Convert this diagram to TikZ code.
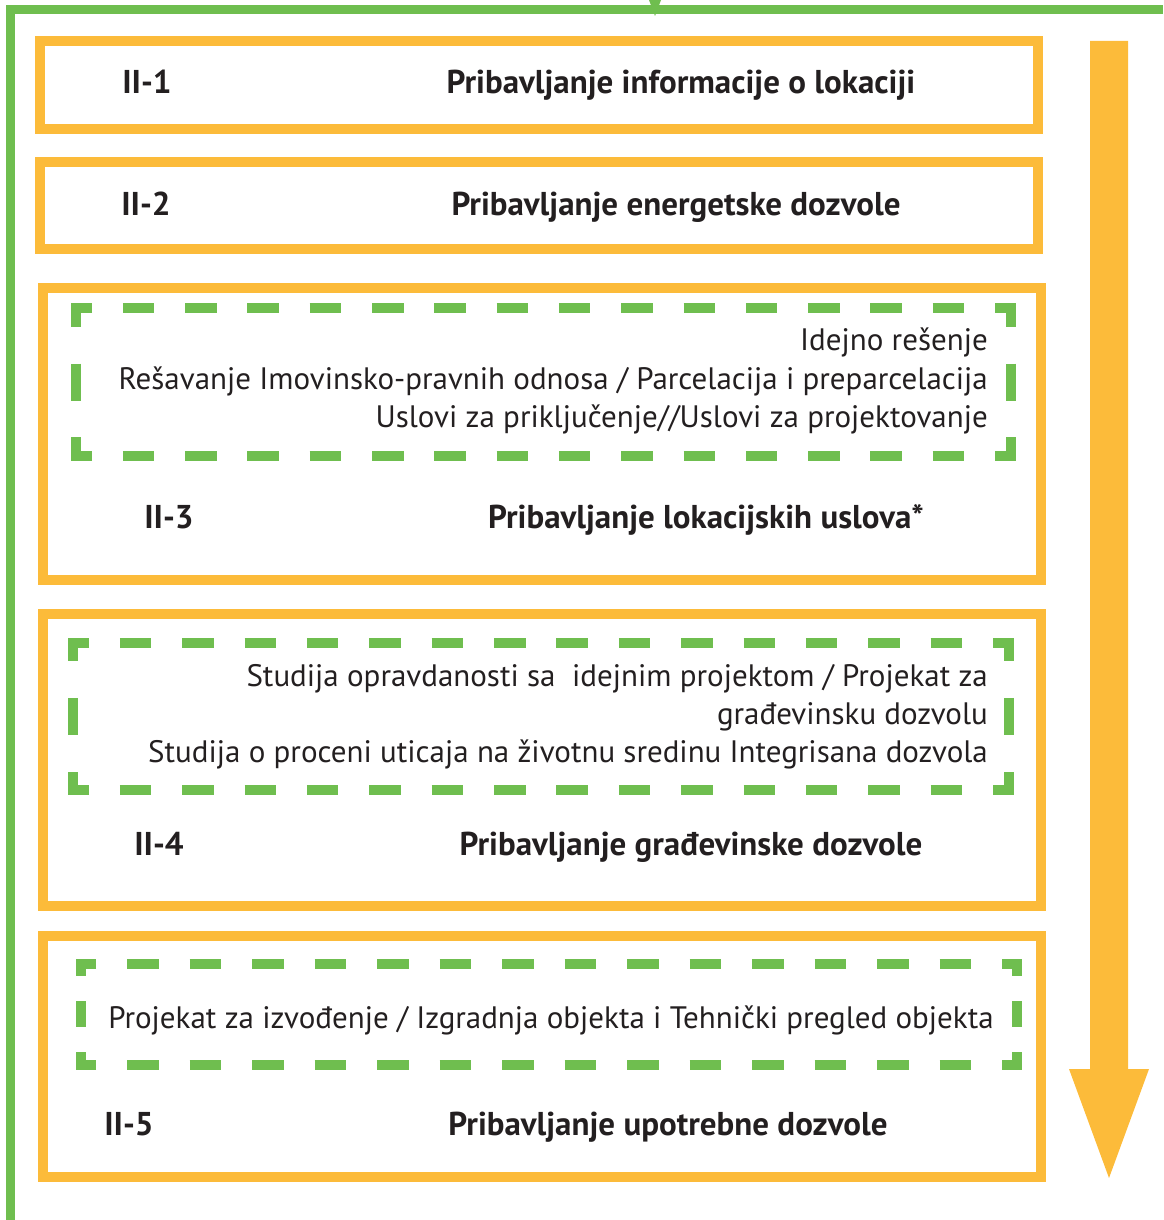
\documentclass[tikz,border=0pt]{standalone}
\usepackage{fontspec}
\setmainfont{PT Sans}
\definecolor{frameorange}{HTML}{FCBB3A}
\definecolor{framegreen}{HTML}{6FBE4F}
\definecolor{inktext}{HTML}{231F20}

\tikzset{
  stagebox/.style={draw=frameorange, line width=10pt},
  outerline/.style={draw=framegreen, line width=9pt},
  gdash/.style={draw=framegreen, line width=10pt, line cap=butt, line join=miter},
  stagecode/.style={font=\fontsize{33}{38}\selectfont\bfseries, text=inktext, inner sep=0pt, anchor=base},
  stagetitle/.style={font=\fontsize{33}{38}\selectfont\bfseries, text=inktext, inner sep=0pt, anchor=base},
  detail/.style={font=\fontsize{31}{38.5}\selectfont, text=inktext, inner sep=0pt, anchor=base east},
}

% green dashed frame with L-shaped corners:
% #1,#2 top-left  #3,#4 bottom-right  #5 horizontal corner arm  #6 vertical corner arm  #7 side dash length
\newcommand\greenframe[7]{%
  \pgfmathsetmacro\gfgap{((#3-#1)-2*#5-14*31.5)/15}%
  \draw[gdash] (#1+#5,#2) -- (#1,#2) -- (#1,#2+#6);
  \draw[gdash] (#3-#5,#2) -- (#3,#2) -- (#3,#2+#6);
  \draw[gdash] (#1+#5,#4) -- (#1,#4) -- (#1,#4-#6);
  \draw[gdash] (#3-#5,#4) -- (#3,#4) -- (#3,#4-#6);
  \foreach \k in {0,...,13}{%
    \draw[gdash] ({#1+#5+\gfgap+\k*(31.5+\gfgap)},#2) -- ++(31.5,0);
    \draw[gdash] ({#1+#5+\gfgap+\k*(31.5+\gfgap)},#4) -- ++(31.5,0);
  }
  \draw[gdash] (#1,{(#2+#4)/2-#7/2}) -- ++(0,#7);
  \draw[gdash] (#3,{(#2+#4)/2-#7/2}) -- ++(0,#7);
}

\begin{document}
\begin{tikzpicture}[x=1pt,y=-1pt]
\useasboundingbox (0,0) rectangle (1163,1220);

% outer green bracket with its entry mark
\draw[outerline] (10.5,1220) -- (10.5,10) -- (1163,10);
\fill[framegreen] (649,0) -- (661,0) -- (655,16) -- cycle;

% big downward arrow on the right
\fill[frameorange] (1090,41) -- (1128,41) -- (1128,1069) -- (1149,1069)
  -- (1109,1178) -- (1069,1069) -- (1090,1069) -- cycle;

% stage boxes
\draw[stagebox] (40,41) rectangle (1038,129);
\draw[stagebox] (40,162) rectangle (1038,249);
\draw[stagebox] (43,288) rectangle (1041,580);
\draw[stagebox] (43,614) rectangle (1041,906);
\draw[stagebox] (43,936) rectangle (1041,1177);

% inner dashed groups
\greenframe{76}{308}{1011}{456}{16}{19}{37}
\greenframe{73}{642.5}{1009}{790}{16}{18.5}{37}
\greenframe{81}{963.5}{1017}{1064.5}{15}{12.5}{26}

% II-1
\node[stagecode] (c1) at (147,94) {II-1};
\node[stagetitle] (t1) at (681,94) {Pribavljanje informacije o lokaciji};
% II-2
\node[stagecode] (c2) at (146,215) {II-2};
\node[stagetitle] (t2) at (676,215) {Pribavljanje energetske dozvole};
% II-3
\node[detail] (d3a) at (988,350.5) {Idejno rešenje};
\node[detail] (d3b) at (988,389) {Rešavanje Imovinsko-pravnih odnosa / Parcelacija i preparcelacija};
\node[detail] (d3c) at (988,427.5) {Uslovi za priključenje//Uslovi za projektovanje};
\node[stagecode] (c3) at (169,528) {II-3};
\node[stagetitle] (t3) at (706,528) {Pribavljanje lokacijskih uslova*};
% II-4
\node[detail] (d4a) at (988,686) {Studija opravdanosti sa \ idejnim projektom / Projekat za};
\node[detail] (d4b) at (988,724) {građevinsku dozvolu};
\node[detail] (d4c) at (988,762) {Studija o proceni uticaja na životnu sredinu Integrisana dozvola};
\node[stagecode] (c4) at (159,855) {II-4};
\node[stagetitle] (t4) at (691,855) {Pribavljanje građevinske dozvole};
% II-5
\node[detail, anchor=base] (d5) at (551,1028) {Projekat za izvođenje / Izgradnja objekta i Tehnički pregled objekta};
\node[stagecode] (c5) at (129,1135) {II-5};
\node[stagetitle] (t5) at (668,1135) {Pribavljanje upotrebne dozvole};
\end{tikzpicture}
\end{document}
